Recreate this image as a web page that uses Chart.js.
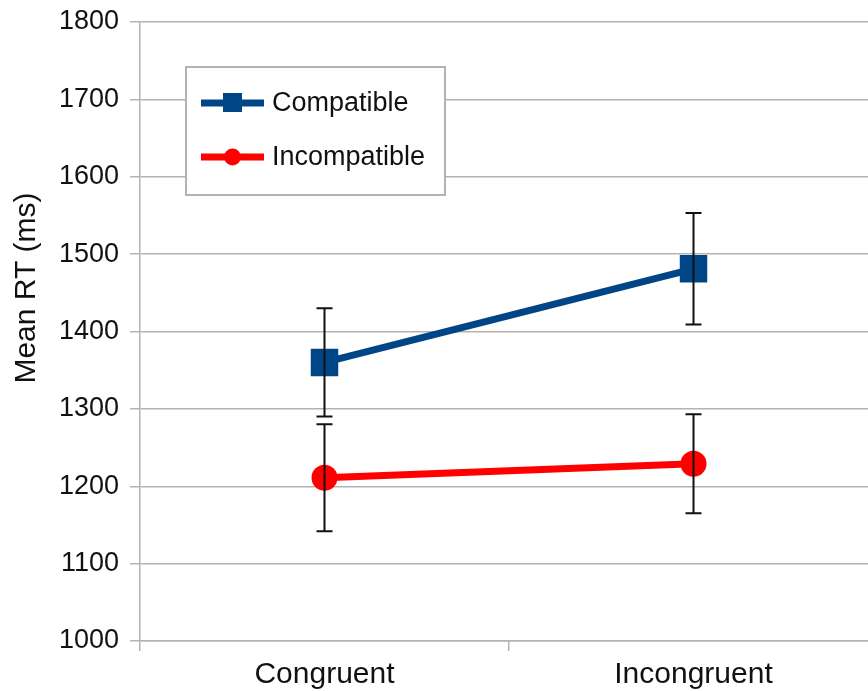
<!DOCTYPE html>
<html>
<head>
<meta charset="utf-8">
<script src="https://cdn.jsdelivr.net/npm/chart.js@4"></script>
<style>
  html, body { margin: 0; padding: 0; background: #fff; overflow: hidden; }
  #wrap { width: 880px; height: 691px; }
</style>
</head>
<body>
<div id="wrap"><canvas id="rtChart" width="880" height="691"></canvas></div>
<script>
// data
const categories = ['Congruent', 'Incongruent'];
const compatibleRT = [1360, 1481];
const compatibleErr = [70, 72];
const incompatibleRT = [1211, 1229];
const incompatibleErr = [69, 64];
const yTitle = 'Mean RT (ms)';

const FONT = "'Liberation Sans', Arial, sans-serif";
const GRID = '#b3b3b3';

// error bars drawn on top of the markers
const errorBars = {
    id: 'errorBars',
    afterDatasetsDraw(chart) {
        const ctx = chart.ctx;
        const y = chart.scales.y;
        ctx.save();
        ctx.strokeStyle = '#111';
        ctx.lineWidth = 2;
        chart.data.datasets.forEach((ds, i) => {
            const meta = chart.getDatasetMeta(i);
            meta.data.forEach((pt, j) => {
                const top = y.getPixelForValue(ds.data[j] + ds.errors[j]);
                const bot = y.getPixelForValue(ds.data[j] - ds.errors[j]);
                ctx.beginPath();
                ctx.moveTo(pt.x, top); ctx.lineTo(pt.x, bot);
                ctx.moveTo(pt.x - 8, top); ctx.lineTo(pt.x + 8, top);
                ctx.moveTo(pt.x - 8, bot); ctx.lineTo(pt.x + 8, bot);
                ctx.stroke();
            });
        });
        ctx.restore();
    }
};

// boxed legend inside the plot, plus the y title
const boxLegend = {
    id: 'boxLegend',
    afterDraw(chart) {
        const ctx = chart.ctx;
        ctx.save();
        ctx.fillStyle = '#fff';
        ctx.fillRect(186, 67, 259, 128);
        ctx.strokeStyle = GRID;
        ctx.lineWidth = 2;
        ctx.strokeRect(186, 67, 259, 128);
        chart.data.datasets.forEach((ds, i) => {
            const cy = 103 + i * 54;
            ctx.strokeStyle = ds.borderColor;
            ctx.fillStyle = ds.borderColor;
            ctx.lineWidth = 7;
            ctx.beginPath();
            ctx.moveTo(201, cy); ctx.lineTo(264, cy);
            ctx.stroke();
            if (ds.pointStyle === 'rect') {
                ctx.fillRect(223, cy - 10, 19, 19);
            } else {
                ctx.beginPath();
                ctx.arc(232.5, cy, 8.5, 0, Math.PI * 2);
                ctx.fill();
            }
            ctx.fillStyle = '#111';
            ctx.font = '27px ' + FONT;
            ctx.textBaseline = 'middle';
            ctx.fillText(ds.label, 272, cy + 1);
        });
        // y axis title
        ctx.translate(27, 288);
        ctx.rotate(-Math.PI / 2);
        ctx.textAlign = 'center';
        ctx.textBaseline = 'middle';
        ctx.fillStyle = '#111';
        ctx.font = '30px ' + FONT;
        ctx.fillText(yTitle, 0, 0);
        ctx.restore();
    }
};

const rtChart = new Chart(document.getElementById('rtChart').getContext('2d'), {
    type: 'line',
    data: {
        labels: categories,
        datasets: [{
            label: 'Compatible',
            data: compatibleRT,
            errors: compatibleErr,
            borderColor: '#004586',
            backgroundColor: '#004586',
            borderWidth: 7,
            pointStyle: 'rect',
            pointRadius: 18,
            pointBorderWidth: 2,
            pointHoverRadius: 18
        }, {
            label: 'Incompatible',
            data: incompatibleRT,
            errors: incompatibleErr,
            borderColor: '#ff0000',
            backgroundColor: '#ff0000',
            borderWidth: 7,
            pointStyle: 'circle',
            pointRadius: 13,
            pointBorderWidth: 0,
            pointHoverRadius: 13
        }]
    },
    options: {
        responsive: false,
        animation: false,
        events: [],
        layout: {
            autoPadding: false,
            padding: { top: 22, right: 2, left: 0, bottom: 0 }
        },
        plugins: {
            legend: { display: false },
            tooltip: { enabled: false }
        },
        scales: {
            x: {
                offset: true,
                afterFit: (s) => { s.height = 50; },
                grid: {
                    offset: true,
                    drawOnChartArea: false,
                    tickLength: 10,
                    color: GRID,
                    lineWidth: 1.5
                },
                border: { color: GRID, width: 1.5 },
                ticks: {
                    padding: 6,
                    color: '#111',
                    font: { family: FONT, size: 30 }
                }
            },
            y: {
                min: 1000,
                max: 1800,
                afterFit: (s) => { s.width = 140; s.paddingTop = 0; s.paddingBottom = 0; },
                grid: {
                    tickLength: 10,
                    color: GRID,
                    lineWidth: 1.5
                },
                border: { color: GRID, width: 1.5 },
                ticks: {
                    stepSize: 100,
                    padding: 11,
                    color: '#111',
                    font: { family: FONT, size: 27 },
                    callback: (v) => String(v)
                }
            }
        }
    },
    plugins: [errorBars, boxLegend]
});
</script>
</body>
</html>
